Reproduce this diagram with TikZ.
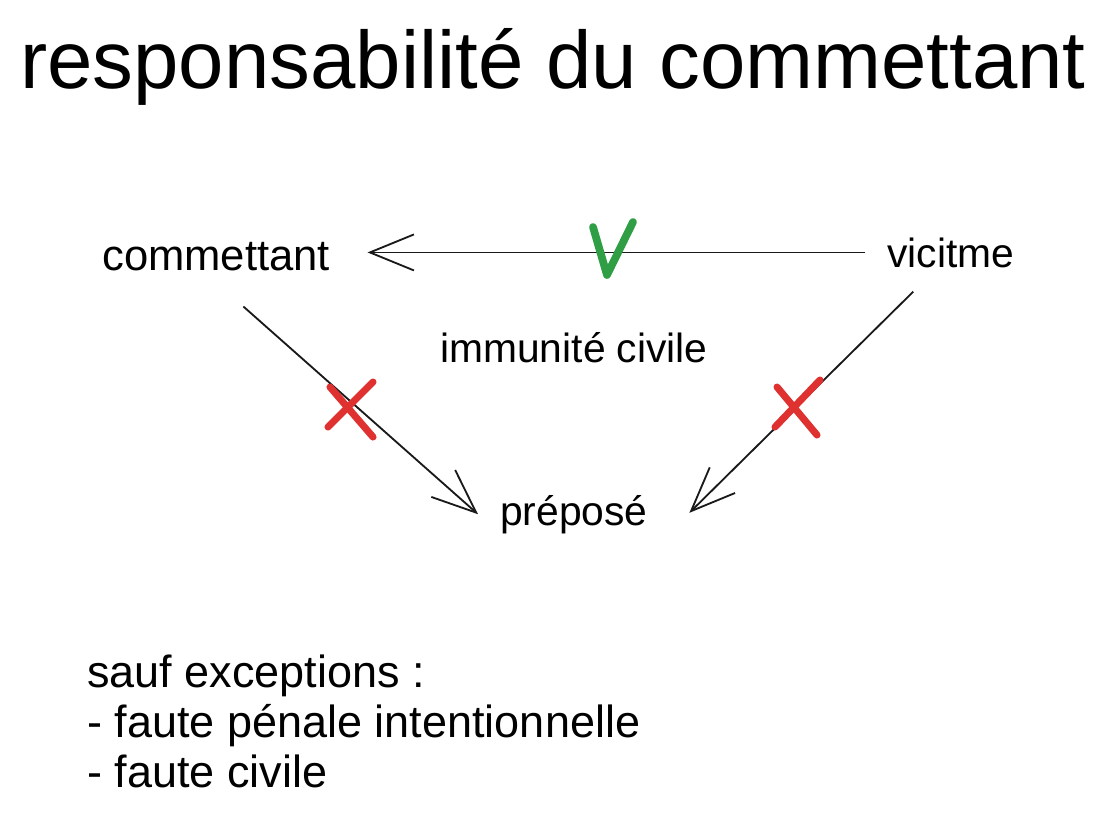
\documentclass[tikz,border=0pt]{standalone}
\usepackage{fontspec}
\setmainfont{Liberation Sans}
\usetikzlibrary{arrows.meta}
\definecolor{crossred}{HTML}{E03131}
\definecolor{tickgreen}{HTML}{2F9E44}
\tikzset{
  txt/.style={inner sep=0pt, anchor=base west, font=\fontsize{29}{34}\selectfont},
  note/.style={inner sep=0pt, anchor=base west, font=\fontsize{32}{38}\selectfont},
  headline/.style={inner sep=0pt, anchor=base west, font=\fontsize{58}{66}\selectfont},
  arr/.style={draw=black!90, line width=1.3pt, -{Straight Barb[length=11mm, width=9mm, line width=1.3pt]}},
  cross/.style={draw=crossred, line width=5pt, line cap=round},
  tick/.style={draw=tickgreen, line width=5.5pt, line cap=round, line join=round},
}
\begin{document}
\begin{tikzpicture}[x=0.025cm, y=-0.025cm]
  \useasboundingbox (0,0) rectangle (1106,818);

  \node[headline] (ttl) at (20,88) {responsabilité du commettant};

  \node[txt, font=\fontsize{31}{36}\selectfont] (com) at (102,270) {commettant};
  \node[txt] (vic) at (887,267) {vicitme};
  \node[txt] (imm) at (440,362) {immunité civile};
  \node[txt] (pre) at (500,525) {préposé};

  \node[note] (exc) at (87,687) {sauf exceptions :};
  \node[note] (exa) at (87,737) {- faute pénale intentionnelle};
  \node[note] (exb) at (87,787) {- faute civile};

  % connectors
  \draw[arr, shorten <=0.55cm, shorten >=0.93cm] (vic.west) -- (vic.west -| com.east);
  \draw[arr, shorten <=1.35cm] ([xshift=-0.33cm]com.south) -- ([xshift=-0.55cm]pre.west);
  \draw[arr, shorten <=0.85cm, shorten >=0.05cm] ([xshift=-0.33cm]vic.south) -- ([xshift=1cm]pre.east);

  % marks
  \draw[tick] (593,227) -- (607,275) -- (633,222);
  \draw[cross] (330,387) -- (373,437);
  \draw[cross] (373,382) -- (328,427);
  \draw[cross] (777,387) -- (817,435);
  \draw[cross] (820,380) -- (775,427);
\end{tikzpicture}
\end{document}
